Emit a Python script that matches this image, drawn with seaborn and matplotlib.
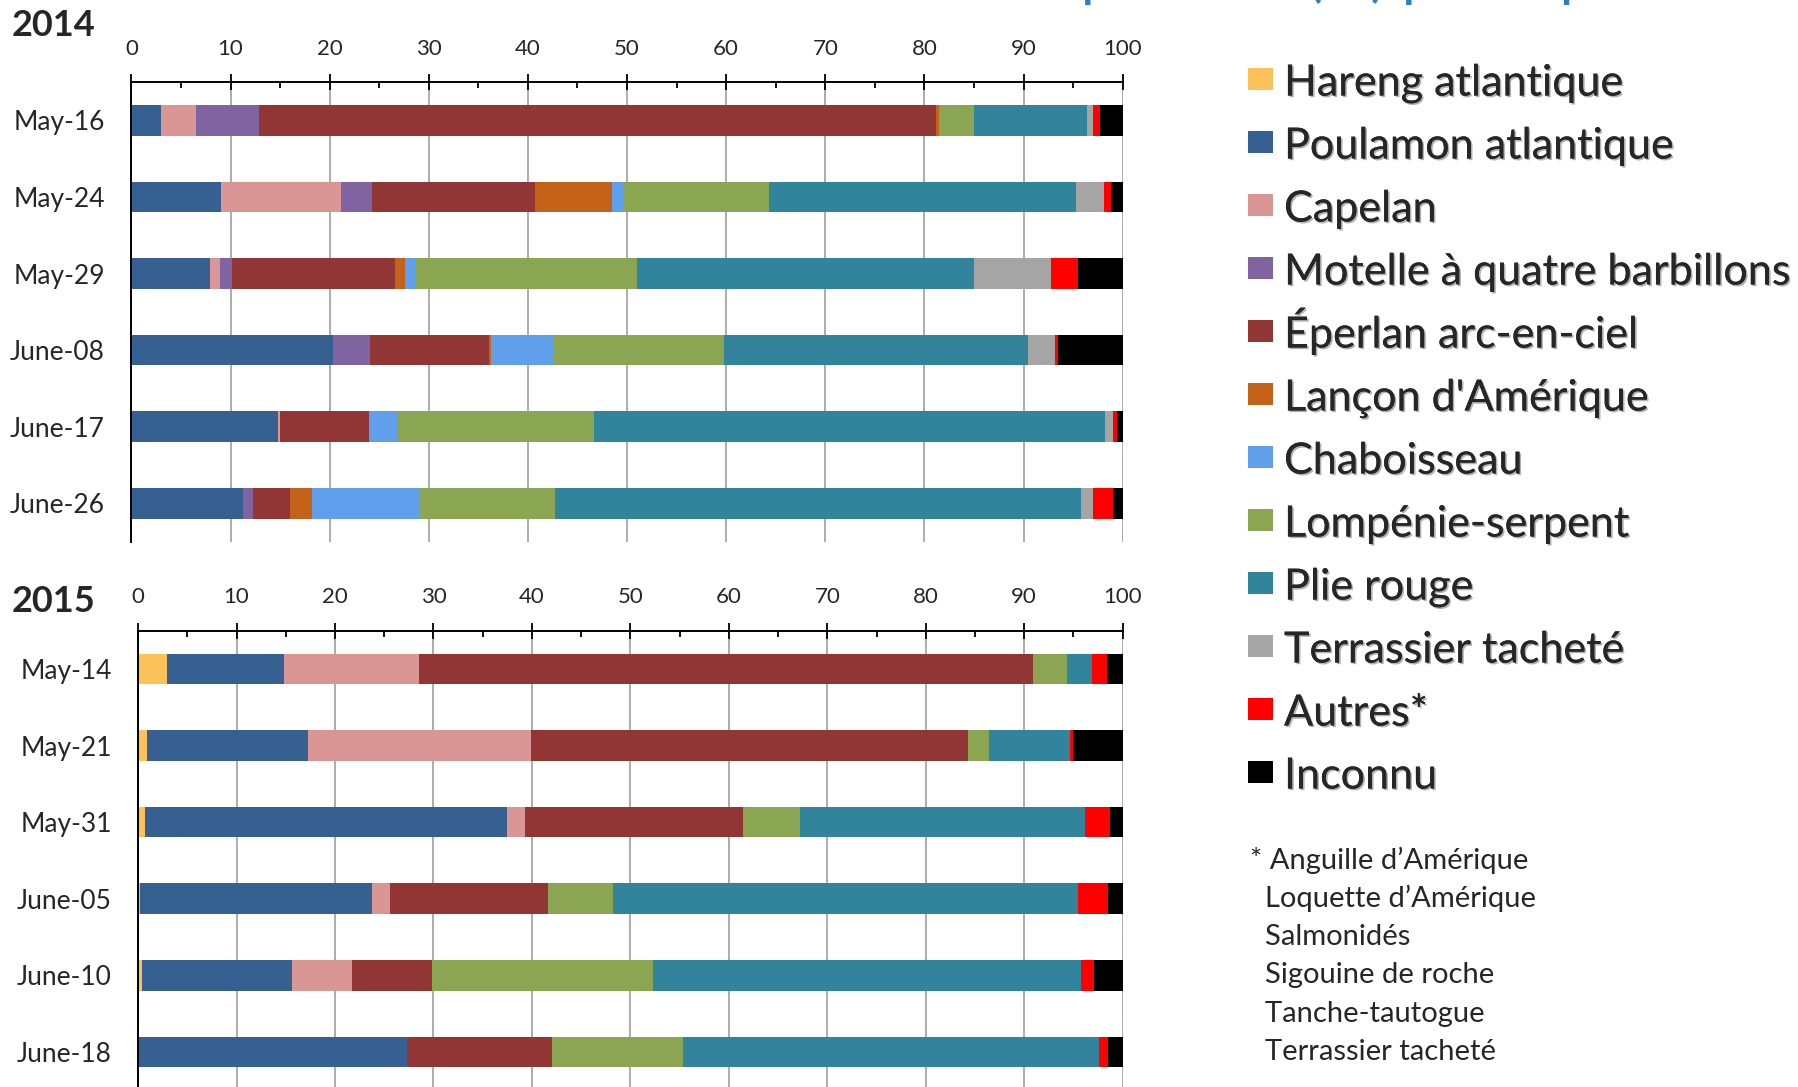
import matplotlib
matplotlib.use("Agg")
import matplotlib.pyplot as plt
import matplotlib.patheffects as pe
from matplotlib.patches import Rectangle
from matplotlib.ticker import MultipleLocator
import seaborn as sns
import pandas as pd

# --- data ---
species = ["Hareng atlantique", "Poulamon atlantique", "Capelan",
           "Motelle à quatre barbillons", "Éperlan arc-en-ciel",
           "Lançon d'Amérique", "Chaboisseau", "Lompénie-serpent",
           "Plie rouge", "Terrassier tacheté", "Autres*", "Inconnu"]
colors = ["#FBC25A", "#376092", "#D99694", "#8064A2", "#913535", "#C5621A",
          "#5F9FEB", "#8AA652", "#31849B", "#A5A5A5", "#FF0000", "#000000"]

dates_2014 = ["May-16", "May-24", "May-29", "June-08", "June-17", "June-26"]
# one row per date, columns in the order of `species`
vals_2014 = [
    [0, 3.0, 3.5, 6.4, 68.3, 0.3, 0.0, 3.5, 11.4, 0.6, 0.7, 2.3],
    [0, 9.0, 12.1, 3.2, 16.4, 7.8, 1.1, 14.7, 31.0, 2.8, 0.7, 1.2],
    [0, 7.9, 1.0, 1.2, 16.5, 1.0, 1.0, 22.4, 34.0, 7.8, 2.7, 4.5],
    [0, 20.3, 0.0, 3.8, 12.0, 0.2, 6.3, 17.2, 30.6, 2.8, 0.25, 6.75],
    [0, 14.8, 0.2, 0.0, 9.0, 0.0, 2.8, 19.9, 51.5, 0.8, 0.4, 0.6],
    [0, 11.3, 0.0, 1.0, 3.7, 2.2, 10.9, 13.6, 53.1, 1.2, 2.0, 1.0],
]

dates_2015 = ["May-14", "May-21", "May-31", "June-05", "June-10", "June-18"]
vals_2015 = [
    [2.9, 11.9, 13.7, 0, 62.4, 0, 0, 3.4, 2.6, 0, 1.5, 1.6],
    [0.9, 16.4, 22.6, 0, 44.4, 0, 0, 2.1, 8.2, 0, 0.4, 5.0],
    [0.7, 36.8, 1.8, 0, 22.1, 0, 0, 5.8, 29.0, 0, 2.5, 1.3],
    [0.2, 23.6, 1.8, 0, 16.0, 0, 0, 6.6, 47.3, 0, 3.0, 1.5],
    [0.4, 15.2, 6.1, 0, 8.2, 0, 0, 22.4, 43.5, 0, 1.3, 2.9],
    [0.0, 27.3, 0.0, 0, 14.7, 0, 0, 13.3, 42.3, 0, 0.9, 1.5],
]

footnote = ["* Anguille d’Amérique", "  Loquette d’Amérique", "  Salmonidés",
            "  Sigouine de roche", "  Tanche-tautogue", "  Terrassier tacheté"]

sns.set_style("white")
plt.rcParams['font.family'] = ['Lato', 'DejaVu Sans']

W, H = 1798, 1087
fig = plt.figure(figsize=(W / 100, H / 100), dpi=100)
ax1 = fig.add_axes([0.0731, 0.5017, 0.5513, 0.4228])
ax2 = fig.add_axes([0.0768, -0.003, 0.5476, 0.4228])


def stacked(ax, dates, vals, year, ylab_y):
    df = pd.DataFrame(vals, columns=species)
    cum = df.cumsum(axis=1)
    cum["date"] = dates
    # cumulative totals drawn from the last species backwards -> stacked bars
    for sp, col in zip(species[::-1], colors[::-1]):
        sns.barplot(data=cum, x=sp, y="date", orient="h", color=col,
                    saturation=1, width=0.4, linewidth=0, ax=ax, zorder=3)
    ax.set_xlim(0, 100)
    ax.set_ylim(5.5, -0.5)
    ax.set_xlabel("")
    ax.set_ylabel("")
    ax.xaxis.tick_top()
    ax.xaxis.set_major_locator(MultipleLocator(10))
    ax.xaxis.set_minor_locator(MultipleLocator(5))
    ax.tick_params(axis="x", which="major", direction="inout", length=11.5,
                   width=1.3, labelsize=16, pad=11, color="black")
    ax.tick_params(axis="x", which="minor", direction="in", length=4.5,
                   width=1.3, color="black")
    ax.tick_params(axis="y", length=0, labelsize=19, pad=19)
    ax.grid(axis="x", which="major", color="#A6A6A6", linewidth=1.3, zorder=0)
    ax.set_axisbelow(True)
    for s in ["right", "bottom"]:
        ax.spines[s].set_visible(False)
    for s in ["top", "left"]:
        ax.spines[s].set_color("black")
        ax.spines[s].set_linewidth(1.4)
        ax.spines[s].set_zorder(5)
    fig.text(0.0064, ylab_y, year, fontsize=26, fontweight="bold",
             va="center", ha="left")


stacked(ax1, dates_2014, vals_2014, "2014", 1 - 26 / H)
stacked(ax2, dates_2015, vals_2015, "2015", 1 - 601 / H)

# title, cut by the top edge in the original (only descenders show)
fig.text(958 / W, 1 + 5 / H, "Composition (%) par espèce", fontsize=43,
         color="#2E7FC0", va="baseline", ha="left")

# legend: swatch + label, evenly spaced
shadow = [pe.withSimplePatchShadow(offset=(1.2, -1.2), shadow_rgbFace="black",
                                   alpha=0.3), pe.Normal()]
for i, (sp, col) in enumerate(zip(species, colors)):
    yc = 80 + i * 63
    fig.patches.append(Rectangle((1248 / W, 1 - (yc + 10) / H), 25 / W, 22 / H,
                                 transform=fig.transFigure, facecolor=col,
                                 edgecolor="none"))
    t = fig.text(1284 / W, 1 - (yc + 15.5) / H, sp, fontsize=31,
                 va="baseline", ha="left")
    t.set_path_effects(shadow)

for i, line in enumerate(footnote):
    fig.text(1250 / W, 1 - (860 + i * 38.4) / H, line, fontsize=21,
             va="center", ha="left")

fig.savefig("out.png", dpi=100)
